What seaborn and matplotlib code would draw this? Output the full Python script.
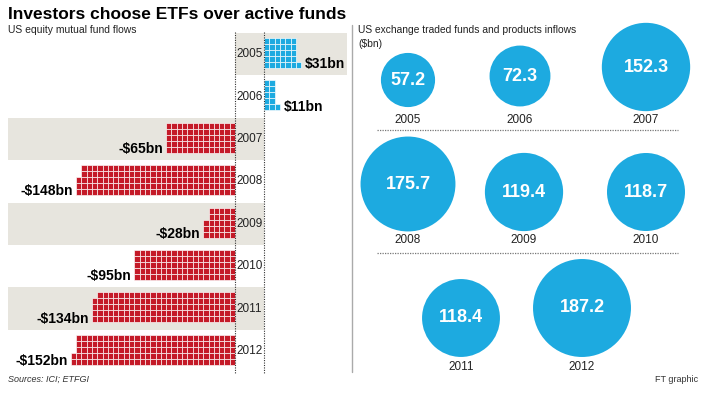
import numpy as np
import pandas as pd
import matplotlib
matplotlib.use("Agg")
import matplotlib.pyplot as plt
import seaborn as sns

# Data
years = [2005, 2006, 2007, 2008, 2009, 2010, 2011, 2012]
fund_flows = [31, 11, -65, -148, -28, -95, -134, -152]          # US equity mutual funds, $bn
etf_inflows = [57.2, 72.3, 152.3, 175.7, 119.4, 118.7, 118.4, 187.2]  # US ETFs, $bn

# Layout (pixels in a 701x394 canvas)
W, H = 701, 394
bubble_x = [408, 520, 646, 408, 524, 646, 461, 582]
bubble_y = [80, 76, 67, 184, 192, 192, 318, 308]
year_label_y = [120, 120, 120, 240, 240, 240, 367, 367]

RED = "#C41A28"
BLUE = "#1DAAE0"
BAND = "#E7E5DE"

sns.set_theme(style="white")
plt.rcParams["font.family"] = ["Liberation Sans", "DejaVu Sans"]

fig = plt.figure(figsize=(W / 100, H / 100), dpi=100)
fig.patch.set_facecolor("white")

# background / decoration layer in pixel coords
bg = fig.add_axes([0, 0, 1, 1])
bg.set_xlim(0, W)
bg.set_ylim(H, 0)
bg.axis("off")

bg.text(8, 19, "Investors choose ETFs over active funds", fontsize=12.5,
        fontweight="bold", color="black", va="baseline")
bg.text(8, 33, "US equity mutual fund flows", fontsize=7.5, color="#222222", va="baseline")
bg.text(358, 33, "US exchange traded funds and products inflows", fontsize=7.4,
        color="#222222", va="baseline")
bg.text(358, 47, "(\\$bn)", fontsize=7.4, color="#222222", va="baseline")
bg.text(8, 379, "Sources: ICI; ETFGI", fontsize=6.5, style="italic", color="#333333", va="center")
bg.text(698, 379, "FT graphic", fontsize=6.5, color="#333333", va="center", ha="right")
bg.plot([352, 352], [25, 372], color="#AAAAAA", lw=1)
for yy in [130, 253]:
    bg.plot([377, 678], [yy, yy], color="#777777", lw=0.9, ls=(0, (1, 1)))

# ---- left panel: waffle of mutual fund flows ----
cell_w, cell_h = 5.3, 6.0        # px per cell
left_px, right_px, top_px = 8, 347, 33
row_px = 42.4
axis_px, pos_px = 235, 264
n = len(years)
band_h = row_px / cell_h
gap = (pos_px - axis_px) / cell_w
block_off = 5 / cell_h

wa = fig.add_axes([left_px / W, 1 - (top_px + n * row_px) / H,
                   (right_px - left_px) / W, n * row_px / H])
wa.set_xlim(-(axis_px - left_px) / cell_w, (right_px - axis_px) / cell_w)
wa.set_ylim(n * band_h, 0)
wa.axis("off")
wa.patch.set_alpha(0)

for i, (yr, v) in enumerate(zip(years, fund_flows)):
    band_top = i * band_h
    if i % 2 == 0:
        x0, x1 = wa.get_xlim()
        if v > 0:
            wa.fill_between([0, x1], band_top, band_top + band_h, color=BAND, lw=0, zorder=0)
        else:
            wa.fill_between([x0, gap], band_top, band_top + band_h, color=BAND, lw=0, zorder=0)

    cnt = abs(v)
    full, rem = divmod(cnt, 5)
    xs, ys = [], []
    for c in range(full + (1 if rem else 0)):
        rows = range(5) if c < full else range(5 - rem, 5)
        for r in rows:
            xs.append(gap + c if v > 0 else -(c + 1))
            ys.append(band_top + block_off + r)
    ncols = full + (1 if rem else 0)
    wa.bar(xs, [1] * len(xs), bottom=ys, width=1, align="edge",
           color=BLUE if v > 0 else RED, edgecolor="white", linewidth=0.45, zorder=2)

    label_y = band_top + block_off + 4.35
    if v > 0:
        wa.text(gap + ncols + 0.7, label_y, f"\\${v}bn", fontsize=10, fontweight="bold",
                ha="left", va="center", color="black")
    else:
        wa.text(-ncols - 0.6, label_y, f"-\\${cnt}bn", fontsize=10, fontweight="bold",
                ha="right", va="center", color="black")
    wa.text(gap / 2, band_top + band_h / 2, str(yr), fontsize=8.5, ha="center",
            va="center", color="#222222", zorder=3)

for xx in [0, gap]:
    wa.plot([xx, xx], [-0.15, n * band_h + 0.1], color="#333333", lw=0.8,
            ls=(0, (1, 1.2)), zorder=3, clip_on=False)

# ---- right panel: bubbles of ETF inflows ----
ba = fig.add_axes([0, 0, 1, 1])
ba.patch.set_alpha(0)
df = pd.DataFrame({"x": bubble_x, "y": bubble_y, "inflow": etf_inflows, "year": years})
k_px = 3.58                                   # radius px per sqrt($bn)
s_per_bn = 4 * (k_px * 72 / 100) ** 2
sns.scatterplot(data=df, x="x", y="y", size="inflow", sizes=(0, s_per_bn * 200),
                size_norm=(0, 200), color=BLUE, linewidth=0, legend=False, ax=ba)
ba.set_xlim(0, W)
ba.set_ylim(H, 0)
ba.axis("off")
for _, row in df.iterrows():
    ba.text(row["x"], row["y"], f"{row['inflow']:.1f}", color="white", fontsize=13,
            fontweight="bold", ha="center", va="center")
for bx, ly, yr in zip(bubble_x, year_label_y, years):
    ba.text(bx, ly, str(yr), fontsize=8.5, ha="center", va="center", color="#222222")

fig.savefig("out.png", dpi=100, facecolor="white")
